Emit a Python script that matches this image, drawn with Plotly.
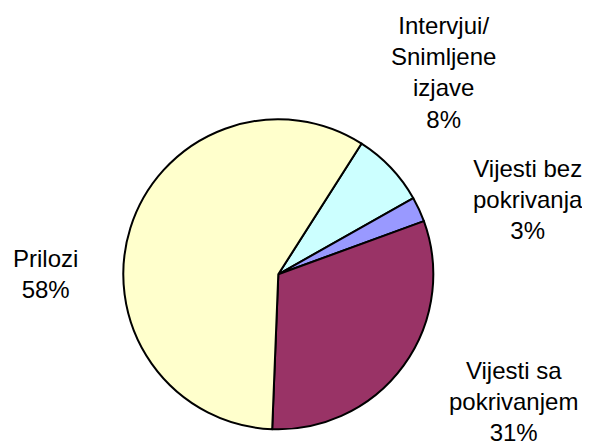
import plotly.graph_objects as go

labels = ["Intervjui/<br>Snimljene<br>izjave", "Vijesti bez<br>pokrivanja", "Vijesti sa<br>pokrivanjem", "Prilozi"]
values = [7.8, 2.6, 31.2, 58.4]
colors = ["#CCFFFF", "#9999FF", "#993366", "#FFFFCC"]

# the page body has an 8px margin; the figure fills the rest of the window
OFF = 8
W, H = 590 - OFF, 445 - OFF
cx, cy, r = 278.3 - OFF, 274.3 - OFF, 155

fig = go.Figure(go.Pie(
    labels=labels, values=values, sort=False, direction="clockwise", rotation=32.5,
    marker=dict(colors=colors, line=dict(color="black", width=2)),
    textinfo="none", hoverinfo="label+percent", showlegend=False,
    domain=dict(x=[(cx - r) / W, (cx + r) / W], y=[(H - cy - r) / H, (H - cy + r) / H]),
))

total = sum(values)
# label block centres (reference-window pixels)
label_pos = [(443, 73), (528, 199.5), (513, 401.5), (45, 274)]
for lab, v, (x, y) in zip(labels, values, label_pos):
    fig.add_annotation(
        text=f"{lab}<br>{round(v / total * 100)}%",
        x=(x - OFF) / W, y=1 - (y - OFF) / H, xref="paper", yref="paper",
        xanchor="center", yanchor="middle", showarrow=False, align="center",
        font=dict(family="Liberation Sans, Arial", size=24, color="black"),
    )

fig.update_layout(width=W, height=H, margin=dict(l=0, r=0, t=0, b=0),
                  paper_bgcolor="white", plot_bgcolor="white")
fig.write_html("out.html")
